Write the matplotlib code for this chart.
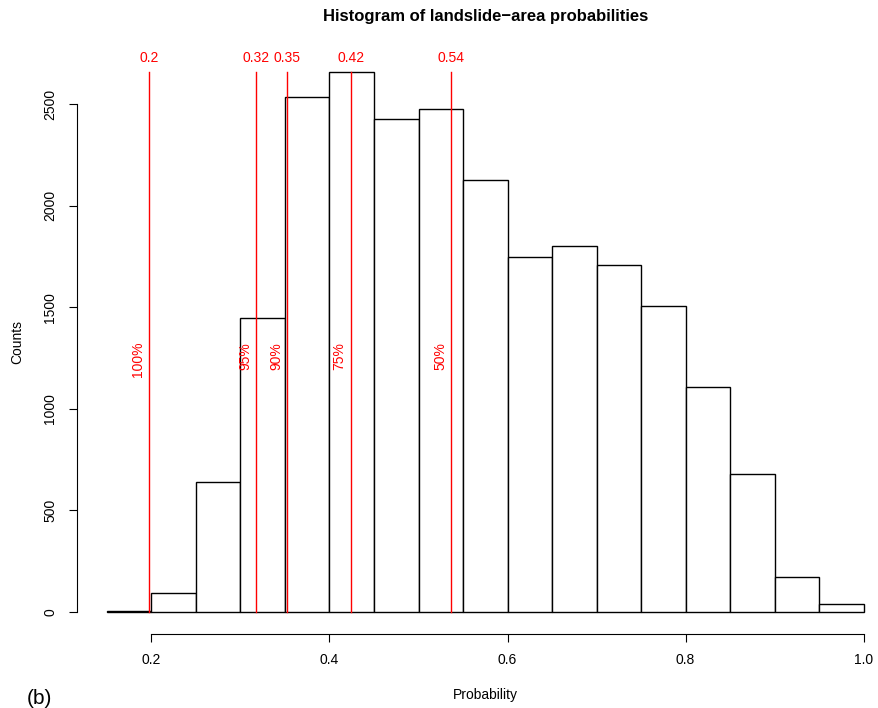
import numpy as np
import matplotlib
matplotlib.use('Agg')
from matplotlib import pyplot as plt

plt.rcParams['font.family'] = ['Liberation Sans', 'DejaVu Sans']

# Histogram of landslide-area probabilities, bin width 0.05
bin_edges = [0.15, 0.20, 0.25, 0.30, 0.35, 0.40, 0.45, 0.50, 0.55,
             0.60, 0.65, 0.70, 0.75, 0.80, 0.85, 0.90, 0.95, 1.00]
counts = [4, 92, 640, 1445, 2535, 2656, 2428, 2475, 2125,
          1746, 1803, 1706, 1506, 1107, 681, 174, 37]

# Probability thresholds and the share of landslide area above each
thresholds = [0.1975, 0.3178, 0.3524, 0.4238, 0.5367]
threshold_labels = ['0.2', '0.32', '0.35', '0.42', '0.54']
coverage_labels = ['100%', '95%', '90%', '75%', '50%']

xticks = [0.2, 0.4, 0.6, 0.8, 1.0]
yticks = [0, 500, 1000, 1500, 2000, 2500]


def main():
    fig = plt.figure(figsize=(8.79, 7.08), dpi=100)
    ax = fig.add_axes([0.0873, 0.1051, 0.9295, 0.8231])

    edges = np.array(bin_edges)
    ax.bar(edges[:-1], counts, width=np.diff(edges), align='edge',
           facecolor='white', edgecolor='black', linewidth=1.0, zorder=1)

    ymax = max(counts)
    for x, lab, pct in zip(thresholds, threshold_labels, coverage_labels):
        ax.plot([x, x], [0, ymax], color='red', linewidth=1.0, zorder=2)
        ax.text(x, 2725, lab, color='red', fontsize=10, ha='center', va='center')
        ax.annotate(pct, xy=(x, 1330), xytext=(-8, 0), textcoords='offset points',
                    color='red', fontsize=10, rotation=90, ha='center', va='top')

    rng = bin_edges[-1] - bin_edges[0]
    ax.set_xlim(bin_edges[0] - 0.04 * rng, bin_edges[-1] + 0.04 * rng)
    ax.set_ylim(-0.04 * ymax, 1.04 * ymax)

    for side in ['top', 'right']:
        ax.spines[side].set_visible(False)
    ax.spines['bottom'].set_bounds(xticks[0], xticks[-1])
    ax.spines['left'].set_bounds(yticks[0], yticks[-1])

    ax.set_xticks(xticks)
    ax.set_xticklabels([f'{v:.1f}' for v in xticks])
    ax.set_yticks(yticks)
    ax.set_yticklabels([str(v) for v in yticks], rotation=90, va='center')
    ax.tick_params(length=6, width=0.8, labelsize=10, pad=8)

    ax.set_xlabel('Probability', fontsize=10, labelpad=15)
    ax.set_ylabel('Counts', fontsize=10, labelpad=14)

    fig.text(0.553, 0.977, 'Histogram of landslide\u2212area probabilities',
             fontsize=12, fontweight='bold', ha='center', va='center')
    fig.text(0.030, 0.013, '(b)', fontsize=15, ha='left', va='center')

    fig.savefig('out.png', dpi=100)
    plt.close(fig)


if __name__ == '__main__':
    main()
